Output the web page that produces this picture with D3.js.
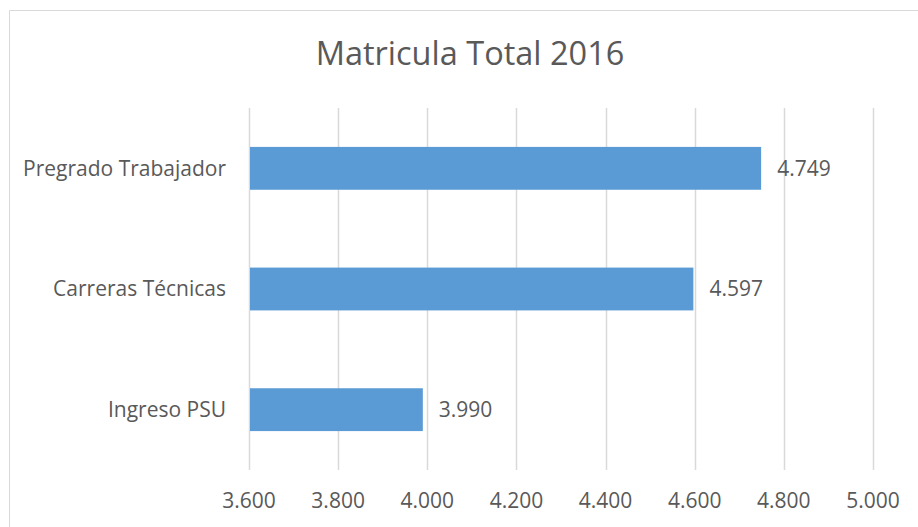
<!DOCTYPE html>
<html>
<head>
<meta charset="utf-8">
<script src="https://cdn.jsdelivr.net/npm/d3@7"></script>
<style>
  body { margin: 0; background: #fff; overflow: hidden; }
  text { font-family: "Open Sans", sans-serif; fill: #595959; }
</style>
</head>
<body>
<div id="chart"></div>
<script>
const categories = ["Pregrado Trabajador", "Carreras Técnicas", "Ingreso PSU"];
const values = [4749, 4597, 3990];
const tickValues = [3600, 3800, 4000, 4200, 4400, 4600, 4800, 5000];
const title = "Matricula Total 2016";

const width = 918, height = 527;
const margin = { top: 108, right: 45, bottom: 57, left: 249 };
const innerWidth = width - margin.left - margin.right;
const innerHeight = height - margin.top - margin.bottom;

const fmt = d => d3.format(",")(d).replace(/,/g, ".");

const svg = d3.select("#chart").append("svg")
  .attr("width", width)
  .attr("height", height)
  .style("display", "block");

// chart frame (only top and left edges are visible in the crop)
svg.append("path")
  .attr("d", `M9.5,${height} V10.5 H${width}`)
  .attr("fill", "none")
  .attr("stroke", "#d9d9d9");

svg.append("text")
  .attr("x", 470)
  .attr("y", 54)
  .attr("dy", "0.35em")
  .attr("text-anchor", "middle")
  .attr("font-size", "32.5px")
  .text(title);

const g = svg.append("g")
  .attr("transform", `translate(${margin.left},${margin.top})`);

const x = d3.scaleLinear()
  .domain([3600, 5000])
  .range([0, 624]);

const y = d3.scaleBand()
  .domain(categories)
  .range([0, innerHeight])
  .paddingInner(0.645)
  .paddingOuter(0.3225);

// gridlines
g.selectAll(".grid")
  .data(tickValues)
  .join("line")
  .attr("class", "grid")
  .attr("x1", d => Math.round(x(d)) + 0.5)
  .attr("x2", d => Math.round(x(d)) + 0.5)
  .attr("y1", 0)
  .attr("y2", innerHeight)
  .attr("stroke", "#d9d9d9")
  .attr("stroke-width", 1.5);

// x axis labels
g.selectAll(".tick-label")
  .data(tickValues)
  .join("text")
  .attr("class", "tick-label")
  .attr("x", d => x(d))
  .attr("y", innerHeight + 31)
  .attr("dy", "0.35em")
  .attr("text-anchor", "middle")
  .attr("font-size", "21px")
  .text(fmt);

// bars
g.selectAll(".bar")
  .data(values)
  .join("rect")
  .attr("class", "bar")
  .attr("x", x(3600) + 1)
  .attr("y", (d, i) => y(categories[i]))
  .attr("width", d => x(d) - x(3600) - 1)
  .attr("height", y.bandwidth())
  .attr("fill", "#5b9bd5");

// category labels
g.selectAll(".cat")
  .data(categories)
  .join("text")
  .attr("class", "cat")
  .attr("x", -23)
  .attr("y", d => y(d) + y.bandwidth() / 2)
  .attr("dy", "0.35em")
  .attr("text-anchor", "end")
  .attr("font-size", "21px")
  .text(d => d);

// value labels
g.selectAll(".val")
  .data(values)
  .join("text")
  .attr("class", "val")
  .attr("x", d => x(d) + 16)
  .attr("y", (d, i) => y(categories[i]) + y.bandwidth() / 2)
  .attr("dy", "0.35em")
  .attr("font-size", "21px")
  .text(fmt);
</script>
</body>
</html>
